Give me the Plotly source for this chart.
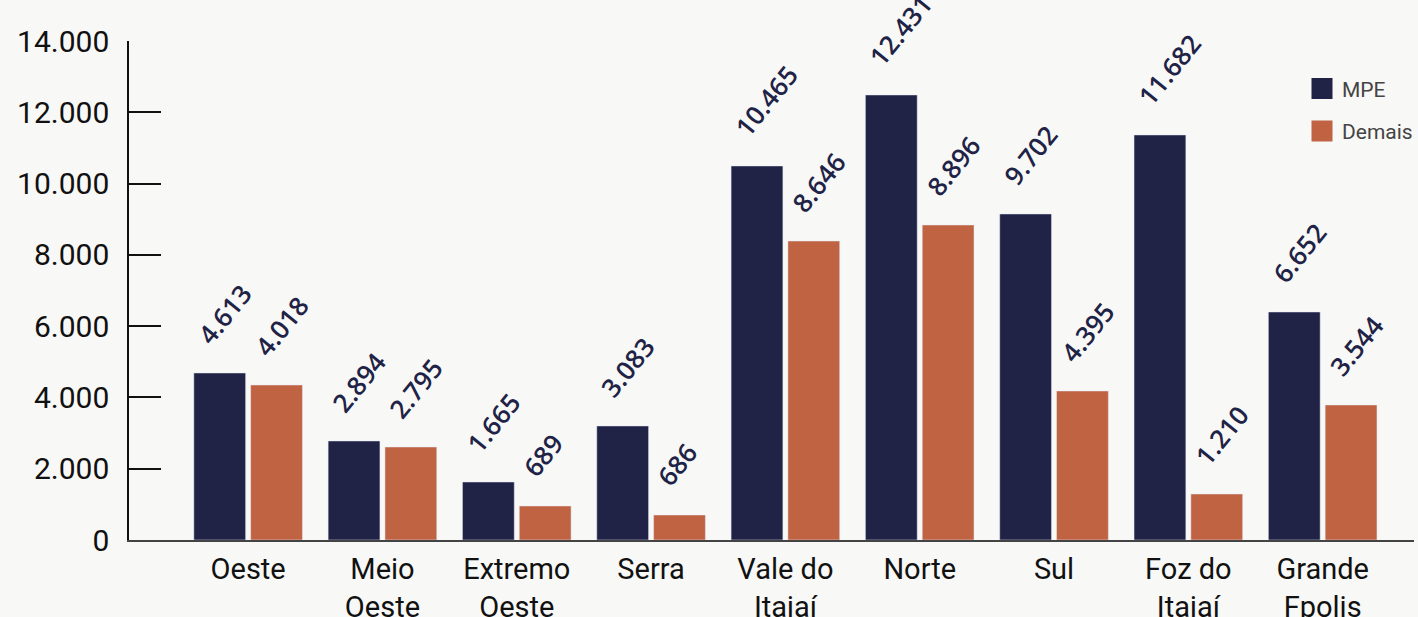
import plotly.graph_objects as go

categories = ["Oeste", "Meio<br>Oeste", "Extremo<br>Oeste", "Serra", "Vale do<br>Itajaí",
              "Norte", "Sul", "Foz do<br>Itajaí", "Grande<br>Fpolis"]
# bar heights as drawn in the picture
mpe_values = [4686, 2778, 1627, 3199, 10494, 12486, 9147, 11364, 6397]
demais_values = [4349, 2609, 954, 701, 8389, 8838, 4181, 1291, 3788]
# value labels as printed on the picture
mpe_labels = ["4.613", "2.894", "1.665", "3.083", "10.465", "12.431", "9.702", "11.682", "6.652"]
demais_labels = ["4.018", "2.795", "689", "686", "8.646", "8.896", "4.395", "1.210", "3.544"]
series_names = ["MPE", "Demais"]
y_tick_values = [0, 2000, 4000, 6000, 8000, 10000, 12000, 14000]
y_tick_labels = ["0", "2.000", "4.000", "6.000", "8.000", "10.000", "12.000", "14.000"]

NAVY = "#202246"
ORANGE = "#c06343"
BG = "#f8f8f6"

fig = go.Figure()
fig.add_trace(go.Bar(x=categories, y=mpe_values, marker_color=NAVY, name=series_names[0],
                     showlegend=False))
fig.add_trace(go.Bar(x=categories, y=demais_values, marker_color=ORANGE, name=series_names[1],
                     showlegend=False))
# legend-only entries (larger square swatches)
for nm, col in zip(series_names, [NAVY, ORANGE]):
    fig.add_trace(go.Scatter(x=[None], y=[None], mode="markers", name=nm, legendgroup=nm,
                             marker=dict(symbol="square", size=20, color=col,
                                         line=dict(color=col, width=5))))

annotations = []
for i, cat in enumerate(categories):
    for vals, labs, xs in [(mpe_values, mpe_labels, -28.5), (demais_values, demais_labels, 28.5)]:
        annotations.append(dict(
            x=cat, y=vals[i], xref="x", yref="y", text=labs[i], showarrow=False,
            textangle=-51, xanchor="left", yanchor="bottom",
            xshift=xs - 33, yshift=19,
            font=dict(family="Open Sans", size=26, color=NAVY, weight=600),
        ))

fig.update_layout(
    width=1418, height=617,
    margin=dict(l=129, r=0, t=41, b=77),
    paper_bgcolor=BG, plot_bgcolor=BG,
    barmode="group", bargap=0.154, bargroupgap=0.088,
    annotations=annotations,
    showlegend=True,
    legend=dict(x=0.913, y=0.945, xanchor="left", yanchor="top",
                bgcolor="rgba(0,0,0,0)", font=dict(family="Roboto", size=21, color="#444"),
                tracegroupgap=12),
    xaxis=dict(range=[-0.887, 8.68], showgrid=False, showline=True, linecolor="#444",
               linewidth=2, ticks="", tickfont=dict(family="Roboto", size=29, color="#111"),
               ticklabelstandoff=2, fixedrange=True, automargin=False),
    yaxis=dict(range=[0, 14000], showgrid=False, zeroline=False, showline=True,
               linecolor="#111", linewidth=1.5, ticks="inside", ticklen=32, tickwidth=1.5,
               tickcolor="#111", tickvals=y_tick_values, ticktext=y_tick_labels,
               tickfont=dict(family="Roboto", size=30, color="#111"),
               ticklabelstandoff=12, fixedrange=True, automargin=False),
)

fig.write_html("out.html")
